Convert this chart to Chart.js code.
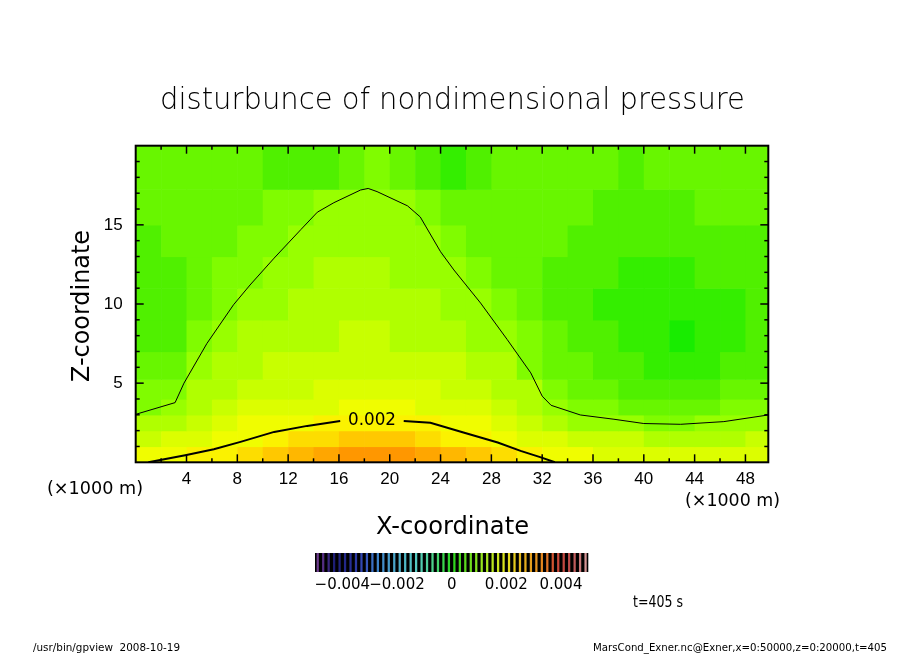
<!DOCTYPE html>
<html>
<head>
<meta charset="utf-8">
<script src="https://cdn.jsdelivr.net/npm/chart.js@4.4.1/dist/chart.umd.min.js"></script>
<style>
  html, body { margin: 0; padding: 0; background: #fff; }
  #wrap { position: relative; width: 904px; height: 654px; overflow: hidden; }
  #main { position: absolute; left: 0; top: 0; }
  #bar { position: absolute; left: 305px; top: 553px; }
</style>
</head>
<body>
<div id="wrap">
  <canvas id="main" width="904" height="654"></canvas>
  <canvas id="bar" width="295" height="48"></canvas>
</div>
<script>
// ---- data (x, z in 1000 m; pressure values in units of 1e-4) ----
const xCols = [1, 3, 5, 7, 9, 11, 13, 15, 17, 19, 21, 23, 25, 27, 29, 31, 33, 35, 37, 39, 41, 43, 45, 47, 49];
const zRows = [0.5, 1.5, 2.5, 3.5, 4.5, 6, 8, 10, 12, 14, 16, 18.5];
const FIELD_UNIT = 1e-4;

const pz00 = [19, 19.7, 20.4, 21.4, 23, 25, 27, 28.8, 30.5, 31, 30.5, 28.8, 26.5, 24.2, 22, 20, 19, 18.3, 17.7, 17.2, 16.8, 16.6, 16.6, 16.8, 17.2];
const pz01 = [15.7, 16.6, 17.8, 19, 19.9, 21, 22.5, 23.8, 25, 25.4, 25, 23.8, 21.5, 20.2, 19, 17.5, 16, 15.3, 14.6, 14, 13.6, 13.4, 13.5, 13.9, 14.4];
const pz02 = [12.3, 13.4, 15.5, 17, 18, 18.8, 19.5, 20, 20.4, 20.5, 20.4, 20, 19, 18, 16.8, 15.2, 12.5, 11.5, 11, 10.2, 9.9, 9.8, 10.2, 10.6, 11.1];
const pz03 = [9.3, 10.2, 13.5, 15, 16, 16.8, 17.3, 17.7, 18, 18.1, 18, 17.7, 17, 16, 15, 13.5, 10, 9, 8.5, 7.8, 7.2, 7, 7.5, 8, 8.5];
const pz04 = [8, 9.5, 12, 13.5, 14.5, 15.3, 15.8, 16.3, 16.6, 16.7, 16.6, 16.3, 15.5, 14.5, 13.5, 12, 8.5, 7.5, 6.5, 5.7, 5.2, 5, 5.5, 6.3, 7];
const pz05 = [6, 7, 10.3, 12.5, 13.3, 14, 14.6, 15, 15.3, 15.4, 15.3, 14.9, 14.2, 13.2, 12, 9.8, 7, 6, 5, 4, 3.3, 3, 3.5, 4.5, 5.5];
const pz06 = [4.5, 5.5, 8.3, 10.8, 12, 12.8, 13.5, 13.8, 14, 14, 13.8, 13.3, 12.6, 11.5, 10.1, 8, 6, 5, 4, 3, 2.2, 1.8, 2.2, 3.5, 4.5];
const pz07 = [4, 5, 7, 9.3, 10.8, 11.8, 12.5, 12.8, 13, 13, 12.8, 12.2, 11.3, 10, 8.5, 7, 5.5, 4.5, 3.5, 3, 2.5, 2.5, 3, 3.8, 4.5];
const pz08 = [4.5, 5.5, 6.5, 8, 9.5, 10.6, 11.5, 12, 12.1, 12.1, 11.8, 11.2, 10.1, 8.5, 7.5, 6.5, 5.5, 5, 4, 3.5, 3.5, 3.5, 4, 4.5, 5];
const pz09 = [5.5, 6, 6.5, 7.5, 8, 9, 10.1, 10.9, 11.2, 11.2, 11, 10.4, 8.5, 7, 7, 6.5, 6, 5.5, 5, 4.5, 4.5, 4.5, 5, 5, 5];
const pz10 = [6, 6.5, 7, 7.5, 7.5, 8, 8.8, 10, 10.6, 10.6, 10.1, 8.5, 6.5, 6, 6.5, 6.5, 6.5, 6, 5.5, 5.5, 5.5, 5.5, 6, 6, 6];
const pz11 = [6, 7, 7.5, 7.5, 6.5, 5.5, 4.5, 5.5, 7.5, 8, 6, 4, 3, 4, 6, 7, 7, 6.5, 6, 5.5, 6, 6.5, 6.5, 6.5, 6.5];
const pressureRows = [pz00, pz01, pz02, pz03, pz04, pz05, pz06, pz07, pz08, pz09, pz10, pz11];

// contour 0.001 (thin line)
const c1X = [0, 3.1, 3.8, 5.6, 7.7, 9.0, 10.9, 13.0, 14.3, 15.6, 17.7, 18.3, 19.0, 21.4, 22.4, 24.0, 25.05, 27.15, 29.25, 31.1, 32.0, 32.7, 35.0, 37.65, 40.0, 42.9, 46.3, 49.8];
const c1Z = [3.03, 3.77, 5.0, 7.5, 9.95, 11.2, 12.9, 14.7, 15.8, 16.4, 17.2, 17.3, 17.1, 16.2, 15.5, 13.3, 12.15, 10.06, 7.75, 5.65, 4.18, 3.6, 2.99, 2.72, 2.45, 2.4, 2.57, 2.99];
// contour 0.002 (thick line, broken around its label)
const c2LeftX = [1.0, 3.9, 6.15, 8.25, 10.9, 13.5, 16.1];
const c2LeftZ = [0.0, 0.45, 0.83, 1.29, 1.92, 2.3, 2.61];
const c2RightX = [21.1, 23.2, 25.8, 28.5, 30.3, 31.9, 33.0];
const c2RightZ = [2.61, 2.5, 1.88, 1.25, 0.72, 0.31, 0.0];
const c2Label = '0.002';
const c2LabelAt = [18.6, 2.62];

// axis ticks
const xMajor = [4, 8, 12, 16, 20, 24, 28, 32, 36, 40, 44, 48];
const xMinor = [2, 6, 10, 14, 18, 22, 26, 30, 34, 38, 42, 46];
const yMajor = [5, 10, 15];
const yMinor = [1, 2, 3, 4, 6, 7, 8, 9, 11, 12, 13, 14, 16, 17, 18, 19];
const barTicks = [-0.004, -0.002, 0, 0.002, 0.004];

// texts
const titleText = 'disturbunce of nondimensional pressure';
const xTitle = 'X-coordinate';
const yTitle = 'Z-coordinate';
const unitText = '(\u00d71000 m)';
const timeText = 't=405 s';
const footLeft = '/usr/bin/gpview  2008-10-19';
const footRight = 'MarsCond_Exner.nc@Exner,x=0:50000,z=0:20000,t=405';

// ---- colour scale ----
const BIN_MIN = -0.005, BIN_MAX = 0.005, BIN_STEP = 0.0002;
const PALETTE_STOPS = [
  [-0.005, [120, 50, 150]], [-0.0047, [70, 20, 130]], [-0.0043, [0, 0, 110]],
  [-0.0037, [10, 20, 150]], [-0.0032, [30, 60, 200]], [-0.0027, [40, 130, 220]],
  [-0.002, [60, 180, 220]], [-0.0013, [70, 220, 210]], [-0.0007, [60, 230, 140]],
  [-0.0002, [30, 235, 40]], [0, [10, 235, 0]], [0.0005, [80, 240, 0]],
  [0.001, [140, 255, 0]], [0.0015, [200, 255, 0]], [0.002, [250, 252, 0]],
  [0.0025, [255, 200, 0]], [0.003, [255, 158, 0]], [0.0034, [255, 128, 0]],
  [0.0038, [220, 50, 30]], [0.0044, [200, 60, 60]], [0.005, [240, 170, 170]]
];
const FONT = '"DejaVu Sans", "Liberation Sans", sans-serif';

function paletteRGB(v) {
  const s = PALETTE_STOPS;
  if (v <= s[0][0]) return s[0][1];
  for (let i = 1; i < s.length; i++) {
    if (v <= s[i][0]) {
      const t = (v - s[i - 1][0]) / (s[i][0] - s[i - 1][0]);
      return s[i - 1][1].map((c, k) => Math.round(c + (s[i][1][k] - c) * t));
    }
  }
  return s[s.length - 1][1];
}
function binCenter(v) {
  const b = Math.floor((v - BIN_MIN) / BIN_STEP + 1e-9);
  return BIN_MIN + (b + 0.5) * BIN_STEP;
}
function rgb(c) { return `rgb(${c[0]},${c[1]},${c[2]})`; }

// draw text centred at (x, y), stretched or squeezed to a given width
function fitText(ctx, text, x, y, size, width, opts = {}) {
  ctx.save();
  ctx.font = `${opts.weight || 'normal'} ${size}px ${FONT}`;
  ctx.translate(x, y);
  if (opts.rotate) ctx.rotate(opts.rotate);
  const w = ctx.measureText(text).width;
  if (opts.spread && w < width) {
    ctx.letterSpacing = ((width - w) / (text.length - 1)) + 'px';
    ctx.textAlign = 'left';
    ctx.textBaseline = opts.baseline || 'middle';
    ctx.fillStyle = '#000';
    ctx.fillText(text, -width / 2, 0);
  } else {
    ctx.scale(width / w, 1);
    ctx.textAlign = 'center';
    ctx.textBaseline = opts.baseline || 'middle';
    ctx.fillStyle = '#000';
    ctx.fillText(text, 0, 0);
  }
  ctx.restore();
}

const zip = (xs, zs) => xs.map((v, i) => ({ x: v, y: zs[i] }));

// shaded field, one cell per value, placed through the chart scales
const fieldPlugin = {
  id: 'field',
  beforeDatasetsDraw(chart) {
    const { ctx, chartArea: a, scales: { x, y } } = chart;
    const xEdge = i => i <= 0 ? 0 : i >= xCols.length ? x.max : (xCols[i - 1] + xCols[i]) / 2;
    const zEdge = j => j <= 0 ? 0 : j >= zRows.length ? y.max : (zRows[j - 1] + zRows[j]) / 2;
    ctx.save();
    ctx.beginPath();
    ctx.rect(a.left, a.top, a.width, a.height);
    ctx.clip();
    pressureRows.forEach((row, j) => {
      const yTop = y.getPixelForValue(zEdge(j + 1));
      const yBot = y.getPixelForValue(zEdge(j));
      row.forEach((val, i) => {
        const x0 = x.getPixelForValue(xEdge(i));
        const x1 = x.getPixelForValue(xEdge(i + 1));
        ctx.fillStyle = rgb(paletteRGB(binCenter(val * FIELD_UNIT)));
        ctx.fillRect(x0, yTop, x1 - x0 + 0.6, yBot - yTop + 0.6);
      });
    });
    ctx.restore();
  }
};

// frame with inward ticks on all sides, contour label, page texts
const framePlugin = {
  id: 'frame',
  afterDatasetsDraw(chart) {
    const { ctx, chartArea: a, scales: { x, y } } = chart;
    ctx.save();
    ctx.strokeStyle = '#000';
    ctx.lineWidth = 1.5;
    const seg = (x0, y0, x1, y1) => { ctx.beginPath(); ctx.moveTo(x0, y0); ctx.lineTo(x1, y1); ctx.stroke(); };
    const xt = (vals, len) => vals.forEach(v => {
      const p = x.getPixelForValue(v);
      seg(p, a.bottom, p, a.bottom - len);
      seg(p, a.top, p, a.top + len);
    });
    const yt = (vals, len) => vals.forEach(v => {
      const p = y.getPixelForValue(v);
      seg(a.left, p, a.left + len, p);
      seg(a.right, p, a.right - len, p);
    });
    xt(xMajor, 8); xt(xMinor, 4);
    yt(yMajor, 8); yt(yMinor, 4);
    ctx.lineWidth = 2;
    ctx.strokeRect(a.left, a.top, a.width, a.height);
    ctx.restore();

    fitText(ctx, c2Label, x.getPixelForValue(c2LabelAt[0]), y.getPixelForValue(c2LabelAt[1]), 17, 48);
  },
  afterDraw(chart) {
    const ctx = chart.ctx;
    fitText(ctx, titleText, 452.5, 109, 30, 585, { baseline: 'alphabetic', weight: '200', spread: true });
    fitText(ctx, xTitle, 452.5, 528, 24, 153);
    fitText(ctx, yTitle, 83, 306, 24, 152, { rotate: -Math.PI / 2 });
    fitText(ctx, unitText, 95, 490, 17, 96);
    fitText(ctx, unitText, 732.5, 502, 17, 95);
    fitText(ctx, timeText, 658, 603, 15, 50);
    fitText(ctx, footLeft, 106.5, 648, 10, 147);
    fitText(ctx, footRight, 740, 648, 10, 294);
  }
};

new Chart(document.getElementById('main'), {
  type: 'scatter',
  data: {
    datasets: [
      { data: zip(c1X, c1Z), showLine: true, borderColor: '#000', borderWidth: 1, pointRadius: 0, tension: 0, clip: 0 },
      { data: zip(c2LeftX, c2LeftZ), showLine: true, borderColor: '#000', borderWidth: 2, pointRadius: 0, tension: 0, clip: 0 },
      { data: zip(c2RightX, c2RightZ), showLine: true, borderColor: '#000', borderWidth: 2, pointRadius: 0, tension: 0, clip: 0 }
    ]
  },
  options: {
    responsive: false,
    animation: false,
    events: [],
    layout: { padding: { left: 0, top: 145.7, right: 135.7, bottom: 0 } },
    plugins: { legend: { display: false }, tooltip: { enabled: false } },
    scales: {
      x: {
        type: 'linear', min: 0, max: 49.8,
        grid: { display: false, drawTicks: false },
        border: { display: false },
        afterBuildTicks: s => { s.ticks = xMajor.map(v => ({ value: v })); },
        afterFit: s => { s.height = 191.7; },
        ticks: { autoSkip: false, maxRotation: 0, padding: 7, color: '#000', font: { family: '"Liberation Sans", sans-serif', size: 17 } }
      },
      y: {
        type: 'linear', min: 0, max: 20,
        grid: { display: false, drawTicks: false },
        border: { display: false },
        afterBuildTicks: s => { s.ticks = yMajor.map(v => ({ value: v })); },
        afterFit: s => { s.width = 135.7; },
        ticks: { autoSkip: false, padding: 13, color: '#000', font: { family: '"Liberation Sans", sans-serif', size: 17 } }
      }
    }
  },
  plugins: [fieldPlugin, framePlugin]
});

// ---- colour bar ----
const barLevels = [];
for (let v = BIN_MIN + BIN_STEP / 2; v < BIN_MAX; v += BIN_STEP) barLevels.push(v);
const stripeColor = v => {
  const c = paletteRGB(v);
  return rgb(c.map(k => Math.round(k * 0.78 + 30)));
};

new Chart(document.getElementById('bar'), {
  type: 'bar',
  data: {
    datasets: [{
      data: barLevels.map(v => ({ x: v, y: 1 })),
      backgroundColor: barLevels.map(stripeColor),
      barThickness: 1.6,
      borderWidth: 0
    }]
  },
  options: {
    responsive: false,
    animation: false,
    events: [],
    layout: { padding: { left: 10, right: 11.7, top: 0, bottom: 0 } },
    plugins: { legend: { display: false }, tooltip: { enabled: false } },
    scales: {
      x: {
        type: 'linear', min: BIN_MIN, max: BIN_MAX, offset: false,
        grid: { display: false, drawTicks: false },
        border: { display: false },
        afterBuildTicks: s => { s.ticks = barTicks.map(v => ({ value: v })); },
        afterFit: s => { s.height = 29; },
        ticks: {
          autoSkip: false, maxRotation: 0, padding: 4, color: '#000',
          font: { family: FONT, size: 15 },
          callback: v => v === 0 ? '0' : (v < 0 ? '\u2212' : '') + Math.abs(v).toFixed(3)
        }
      },
      y: { display: false, min: 0, max: 1 }
    }
  },
  plugins: [{
    id: 'barBg',
    beforeDatasetsDraw(chart) {
      const { ctx, chartArea: a } = chart;
      ctx.save();
      ctx.fillStyle = '#000';
      ctx.fillRect(a.left, a.top, a.width, a.height);
      ctx.restore();
    }
  }]
});
</script>
</body>
</html>
